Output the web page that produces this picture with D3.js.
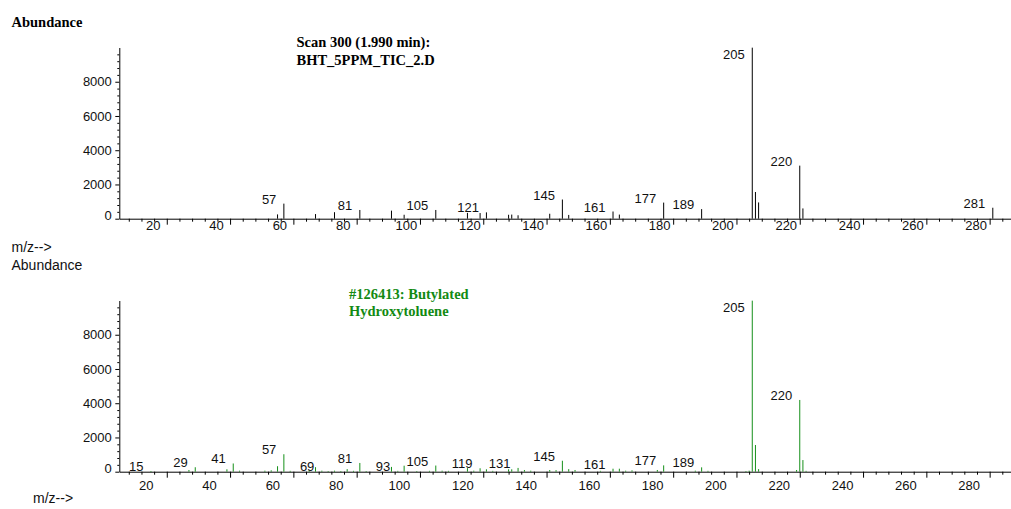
<!DOCTYPE html>
<html>
<head>
<meta charset="utf-8">
<script src="https://cdn.jsdelivr.net/npm/d3@7"></script>
<style>
  body { margin: 0; background: #fff; }
  svg { display: block; }
</style>
</head>
<body>
<svg id="chart"></svg>
<script>
// top spectrum: scan 300
const scanMz = [55, 57, 67, 73, 81, 91, 95, 105, 115, 119, 121, 128, 129, 131, 141, 145, 147, 161, 163, 177, 189, 205, 206, 207, 220, 221, 281];
const scanAb = [250, 880, 270, 380, 510, 470, 230, 510, 340, 330, 370, 230, 240, 200, 290, 1120, 220, 420, 240, 940, 560, 9990, 1560, 950, 3100, 600, 640];
const scanLabels = [57, 81, 105, 121, 145, 161, 177, 189, 205, 220, 281];

// bottom spectrum: library hit
const libMz = [15, 27, 29, 39, 41, 43, 51, 53, 55, 57, 59, 65, 67, 69, 71, 73, 75, 77, 79, 81, 83, 91, 93, 95, 99, 103, 105, 107, 109, 115, 117, 119, 121, 123, 128, 129, 131, 133, 135, 141, 143, 145, 147, 149, 157, 161, 163, 165, 167, 175, 177, 187, 189, 191, 203, 204, 205, 206, 207, 219, 220, 221, 222];
const libAb = [40, 100, 260, 140, 480, 60, 60, 80, 320, 1020, 50, 90, 265, 60, 40, 60, 40, 150, 50, 510, 40, 280, 50, 350, 40, 50, 360, 60, 50, 210, 60, 200, 140, 50, 140, 140, 220, 100, 60, 100, 90, 640, 150, 100, 50, 175, 175, 60, 80, 100, 370, 60, 255, 50, 40, 60, 9990, 1560, 150, 100, 4190, 680, 50];
const libLabels = [15, 29, 41, 57, 69, 81, 93, 105, 119, 131, 145, 161, 177, 189, 205, 220];

const xMajor = d3.range(20, 281, 20);
const xMinor = d3.range(8, 287, 4).filter(v => v % 20 !== 0);
const yMajor = [0, 2000, 4000, 6000, 8000];
const yMinor = d3.range(400, 10000, 400).filter(v => v % 2000 !== 0);

const W = 1011, H = 509;
const SANS = '"Liberation Sans", Arial, Helvetica, sans-serif';
const SERIF = '"Liberation Serif", "Times New Roman", serif';

const svg = d3.select('#chart').attr('width', W).attr('height', H);

const xscale = d3.scaleLinear().domain([5, 287]).range([119.3, 1011.8]);

class SpectrumPanel {
      constructor(config, data){
            this.config = {
                  top: config.top,
                  bottom: config.bottom,
                  color: config.color,
                  labelShift: config.labelShift,
                  labelDrop: config.labelDrop
            }
            this.data = data;
            this.init();
      }

      init(){
            let self = this;
            self.yscale = d3.scaleLinear()
                  .domain([0, 10000])
                  .range([self.config.bottom, self.config.top]);
            self.g = svg.append('g');
      }

      render(){
            let self = this;
            const x = xscale, y = self.yscale;

            // x axis, minor then major (major carries the axis line)
            self.g.append('g')
                  .attr('transform', `translate(0, ${self.config.bottom})`)
                  .call(d3.axisBottom(x).tickValues(xMinor).tickSize(3).tickFormat(''))
                  .call(g => g.select('.domain').remove());

            const xa = self.g.append('g')
                  .attr('transform', `translate(0, ${self.config.bottom})`)
                  .call(d3.axisBottom(x).tickValues(xMajor).tickSize(6).tickSizeOuter(0));
            xa.selectAll('text')
                  .attr('y', self.config.labelDrop)
                  .attr('dy', 0)
                  .attr('dx', self.config.labelShift)
                  .attr('fill', '#111')
                  .style('font-size', '13px')
                  .style('font-family', SANS);

            // y axis
            self.g.append('g')
                  .attr('transform', `translate(${x.range()[0]}, 0)`)
                  .call(d3.axisLeft(y).tickValues(yMinor).tickSize(2).tickFormat(''))
                  .call(g => g.select('.domain').remove());

            const ya = self.g.append('g')
                  .attr('transform', `translate(${x.range()[0]}, 0)`)
                  .call(d3.axisLeft(y).tickValues(yMajor).tickFormat(d3.format('d'))
                        .tickSize(4).tickPadding(3.5).tickSizeOuter(0));
            ya.selectAll('text')
                  .attr('fill', '#111')
                  .attr('dy', d => d === 0 ? '0.05em' : '0.32em')
                  .style('font-size', '13px')
                  .style('font-family', SANS);

            // peaks
            self.g.append('g').selectAll('line')
                  .data(self.data.peaks)
                  .join('line')
                  .attr('x1', d => x(d.mz))
                  .attr('x2', d => x(d.mz))
                  .attr('y1', y(0))
                  .attr('y2', d => y(d.ab))
                  .attr('stroke', self.config.color)
                  .attr('stroke-width', 1);

            // peak labels, kept inside the plot at the top
            self.g.append('g').selectAll('text')
                  .data(self.data.peaks.filter(d => self.data.labels.includes(d.mz)))
                  .join('text')
                  .attr('x', d => x(d.mz) - 7.5)
                  .attr('y', d => Math.max(y(d.ab), self.config.top + 11))
                  .attr('text-anchor', 'end')
                  .attr('fill', '#111')
                  .style('font-size', '13px')
                  .style('font-family', SANS)
                  .text(d => d.mz);
      }
}

const scanPeaks = scanMz.map((m, i) => ({mz: m, ab: scanAb[i]}));
const libPeaks = libMz.map((m, i) => ({mz: m, ab: libAb[i]}));

const topPanel = new SpectrumPanel({top: 47.5, bottom: 218.7, color: '#000', labelShift: -14, labelDrop: 11.5},
      {peaks: scanPeaks, labels: scanLabels});
topPanel.render();

const bottomPanel = new SpectrumPanel({top: 300.5, bottom: 471.7, color: '#16901a', labelShift: -21, labelDrop: 18},
      {peaks: libPeaks, labels: libLabels});
bottomPanel.render();

// titles and axis captions
svg.append('text')
      .attr('x', 11.5).attr('y', 27)
      .style('font-family', SERIF).style('font-weight', 'bold').style('font-size', '14.5px')
      .text('Abundance');

const scanTitle = svg.append('text')
      .style('font-family', SERIF).style('font-weight', 'bold').style('font-size', '14.5px');
scanTitle.append('tspan').attr('x', 296.5).attr('y', 46.7).text('Scan 300 (1.990 min):');
scanTitle.append('tspan').attr('x', 296.5).attr('y', 65).text('BHT_5PPM_TIC_2.D');

const libTitle = svg.append('text')
      .attr('fill', '#128a12')
      .style('font-family', SERIF).style('font-weight', 'bold').style('font-size', '14.5px');
libTitle.append('tspan').attr('x', 349).attr('y', 299).text('#126413: Butylated');
libTitle.append('tspan').attr('x', 349).attr('y', 316).text('Hydroxytoluene');

svg.append('text')
      .attr('x', 11.5).attr('y', 252)
      .attr('fill', '#111')
      .style('font-family', SANS).style('font-size', '14px')
      .text('m/z-->');

svg.append('text')
      .attr('x', 11.5).attr('y', 270)
      .attr('fill', '#111')
      .style('font-family', SANS).style('font-size', '14px')
      .text('Abundance');

svg.append('text')
      .attr('x', 33).attr('y', 503)
      .attr('fill', '#111')
      .style('font-family', SANS).style('font-size', '14px')
      .text('m/z-->');
</script>
</body>
</html>
